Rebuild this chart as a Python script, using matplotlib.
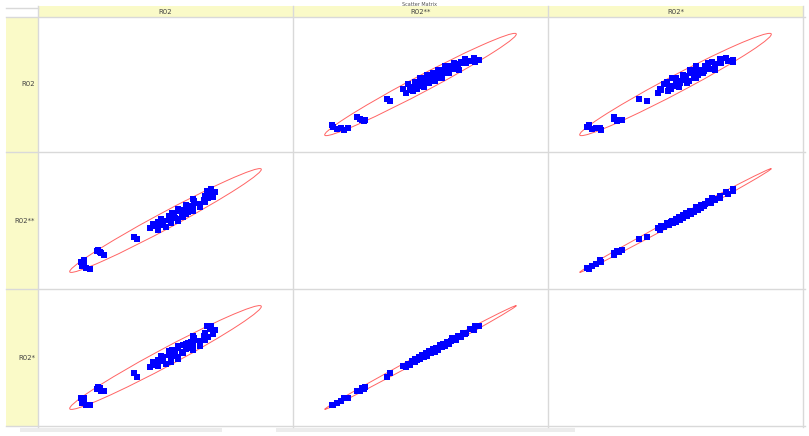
import numpy as np
import matplotlib.pyplot as plt
from matplotlib.patches import Ellipse, Rectangle

names = ["R02", "R02**", "R02*"]

r02 = [14, 11, 9, 10, 8, 10,
       23, 21, 20, 19, 18,
       44, 42,
       57, 52, 62, 55, 59, 54, 65, 60, 57, 65, 70, 60, 64, 70, 59, 68, 66, 73, 64, 72,
       67, 75, 66, 72, 76, 70, 79, 73, 77, 70, 79, 84, 76, 78, 75, 84, 80, 87, 80, 86,
       79, 89, 87, 92, 87,
       90, 93, 88, 91]
r02ss = [10, 11, 13, 15, 17, 19,
         24, 26, 27, 29, 28,
         41, 43,
         50, 52, 53, 54, 55, 56, 57, 57, 58, 59, 60, 60, 61, 62, 62, 63, 64, 64, 65, 66,
         66, 67, 68, 68, 69, 70, 70, 71, 72, 72, 73, 74, 75, 75, 76, 77, 78, 79, 80, 81,
         82, 83, 84, 85, 86,
         88, 90, 91, 93]
r02s = [11.5, 10.5, 13.5, 15.5, 18.5, 18,
        25.5, 25.5, 28.5, 30, 27.5,
        40, 44,
        51.5, 50.5, 54, 52, 56.5, 56, 55.5, 59, 57.5, 60.5, 58.5, 60.5, 63, 60.5, 62, 64.5,
        62, 64.5, 66.5, 65.5, 64.5, 69, 68, 66, 70.5, 70.5, 68.5, 73, 71.5, 72, 74.5, 72,
        75.5, 76.5, 74.5, 77, 80, 78.5, 78.5, 82.5, 82.5, 81, 85.5, 85, 85.5,
        89.5, 88.5, 92.5, 92.5]
data = [np.array(r02, float), np.array(r02ss, float), np.array(r02s, float)]

W, H = 809, 436
fig = plt.figure(figsize=(W / 100, H / 100), dpi=100)
fig.patch.set_facecolor("white")

xb = [38, 293, 548, 803]
yb = [17, 152, 289, 426]
yellow = "#fafac8"
grey = "#d9d9d9"


def fx(px):
    return px / W


def fy(py):
    return 1 - py / H


# header strips
fig.patches.append(Rectangle((fx(38), fy(17)), fx(803) - fx(38), fy(6) - fy(17),
                             transform=fig.transFigure, fc=yellow, ec="none", zorder=0))
fig.patches.append(Rectangle((fx(6), fy(426)), fx(38) - fx(6), fy(17) - fy(426),
                             transform=fig.transFigure, fc=yellow, ec="none", zorder=0))
fig.patches.append(Rectangle((fx(20), fy(432)), fx(222) - fx(20), fy(428) - fy(432),
                             transform=fig.transFigure, fc="#ececec", ec="none", zorder=0))
fig.patches.append(Rectangle((fx(276), fy(432)), fx(575) - fx(276), fy(428) - fy(432),
                             transform=fig.transFigure, fc="#ececec", ec="none", zorder=0))

# grid lines
for x in xb:
    fig.add_artist(plt.Line2D([fx(x), fx(x)], [fy(6), fy(427)], color=grey, lw=1))
for y in yb:
    fig.add_artist(plt.Line2D([fx(6), fx(805)], [fy(y), fy(y)], color=grey, lw=1))
fig.add_artist(plt.Line2D([fx(6), fx(38)], [fy(8), fy(8)], color=grey, lw=1))

fig.text(fx(420), fy(4), "Scatter Matrix", fontsize=3.5, color="#555555",
         ha="center", va="center")
for j, n in enumerate(names):
    fig.text(fx((xb[j] + xb[j + 1]) / 2), fy(12), n, fontsize=5, color="#444444",
             ha="center", va="center")
for i, n in enumerate(names):
    fig.text(fx(35), fy((yb[i] + yb[i + 1]) / 2), n, fontsize=5, color="#444444",
             ha="right", va="center")


def conf_ellipse(x, y, k=2.45):
    cov = np.cov(x, y)
    vals, vecs = np.linalg.eigh(cov)
    order = vals.argsort()[::-1]
    vals, vecs = vals[order], vecs[:, order]
    ang = np.degrees(np.arctan2(vecs[1, 0], vecs[0, 0]))
    w, h = 2 * k * np.sqrt(vals)
    t = np.linspace(0, 2 * np.pi, 200)
    pts = (vecs @ np.vstack([w / 2 * np.cos(t), h / 2 * np.sin(t)])).T + [x.mean(), y.mean()]
    return Ellipse((x.mean(), y.mean()), w, h, angle=ang, fill=False,
                   ec="#ff6464", lw=0.7), pts


for i in range(3):
    for j in range(3):
        ax = fig.add_axes([fx(xb[j] + 1), fy(yb[i + 1] - 1),
                           fx(xb[j + 1] - xb[j] - 2), (yb[i + 1] - yb[i] - 2) / H])
        ax.set_xticks([])
        ax.set_yticks([])
        for s in ax.spines.values():
            s.set_visible(False)
        ax.patch.set_alpha(0)
        if i == j:
            continue
        x, y = data[j], data[i]
        e, pts = conf_ellipse(x, y)
        ax.add_patch(e)
        ax.scatter(x, y, s=16, marker="s", color="#0000ff", linewidths=0, zorder=3)
        allx = np.concatenate([x, pts[:, 0]])
        ally = np.concatenate([y, pts[:, 1]])
        px = 0.16 * (allx.max() - allx.min())
        py = 0.15 * (ally.max() - ally.min())
        ax.set_xlim(allx.min() - px, allx.max() + px)
        ax.set_ylim(ally.min() - py, ally.max() + py)

fig.savefig("out.png", dpi=100)
